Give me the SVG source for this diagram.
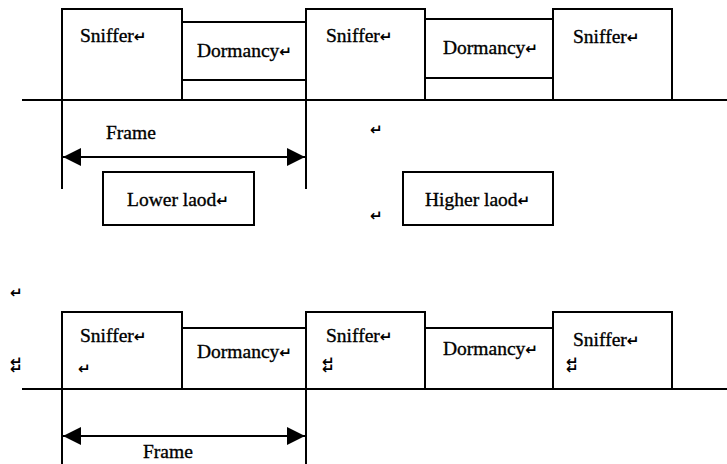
<svg xmlns="http://www.w3.org/2000/svg" width="727" height="464" viewBox="0 0 727 464">
<style>
.b{fill:#fff;stroke:#000;stroke-width:2}
.l{stroke:#000;stroke-width:2;fill:none}
.t{font-family:"Liberation Serif","Times New Roman",serif;font-size:19.5px;fill:#000;stroke:#000;stroke-width:0.35}
.r{font-family:"DejaVu Sans",sans-serif;font-size:15px;font-weight:bold;fill:#000;stroke:none}
</style>
<defs>
<marker id="ah" viewBox="0 0 18 18" refX="18" refY="9" markerWidth="18" markerHeight="18" markerUnits="userSpaceOnUse" orient="auto-start-reverse">
<path d="M0,0 L18,9 L0,18 z" fill="#000"/>
</marker>
</defs>
<rect width="727" height="464" fill="#fff"/>
<g id="connectors">
<line class="l" x1="22" y1="100" x2="727" y2="100"/>
<line class="l" x1="62" y1="100" x2="62" y2="189"/>
<line class="l" x1="306" y1="100" x2="306" y2="189"/>
<line class="l" x1="63" y1="157" x2="305" y2="157" marker-start="url(#ah)" marker-end="url(#ah)"/>
<line class="l" x1="22" y1="389" x2="727" y2="389"/>
<line class="l" x1="62" y1="389" x2="62" y2="464"/>
<line class="l" x1="306" y1="389" x2="306" y2="464"/>
<line class="l" x1="63" y1="436" x2="305" y2="436" marker-start="url(#ah)" marker-end="url(#ah)"/>
</g>
<g id="top-sniffer1"><rect class="b" x="62" y="9" width="120" height="91"/><text class="t" x="80" y="42">Sniffer<tspan class="r">↵</tspan></text></g>
<g id="top-dormancy1"><rect class="b" x="182" y="22" width="124" height="58"/><line class="l" x1="182" y1="80" x2="182" y2="100"/><text class="t" x="197" y="57">Dormancy<tspan class="r">↵</tspan></text></g>
<g id="top-sniffer2"><rect class="b" x="306" y="9" width="119" height="91"/><text class="t" x="326" y="42">Sniffer<tspan class="r">↵</tspan></text></g>
<g id="top-dormancy2"><rect class="b" x="425" y="19" width="128" height="59"/><text class="t" x="443" y="54">Dormancy<tspan class="r">↵</tspan></text></g>
<g id="top-sniffer3"><rect class="b" x="553" y="9" width="119" height="91"/><text class="t" x="573" y="43">Sniffer<tspan class="r">↵</tspan></text></g>
<g id="frame-label1"><text class="t" x="106" y="139">Frame</text></g>
<g id="mark1"><text class="r" x="370" y="135">↵</text></g>
<g id="mark2"><text class="r" x="370" y="221">↵</text></g>
<g id="lower-load"><rect class="b" x="103" y="172" width="151" height="53"/><text class="t" x="127" y="206">Lower laod<tspan class="r">↵</tspan></text></g>
<g id="higher-load"><rect class="b" x="403" y="172" width="150" height="53"/><text class="t" x="425" y="206">Higher laod<tspan class="r">↵</tspan></text></g>
<g id="mark3"><text class="r" x="10" y="298">↵</text></g>
<g id="mark4"><text class="r" x="10" y="367">↵<tspan x="10" dy="7">↵</tspan></text></g>
<g id="bot-sniffer1"><rect class="b" x="62" y="312" width="120" height="77"/><text class="t" x="80" y="342">Sniffer<tspan class="r">↵</tspan></text><text class="r" x="78" y="374">↵</text></g>
<g id="bot-dormancy1"><rect class="b" x="182" y="328" width="124" height="61"/><text class="t" x="197" y="358">Dormancy<tspan class="r">↵</tspan></text></g>
<g id="bot-sniffer2"><rect class="b" x="306" y="312" width="119" height="77"/><text class="t" x="326" y="342">Sniffer<tspan class="r">↵</tspan></text><text class="r" x="322" y="367">↵<tspan x="322" dy="7">↵</tspan></text></g>
<g id="bot-dormancy2"><rect class="b" x="425" y="328" width="128" height="61"/><text class="t" x="443" y="355">Dormancy<tspan class="r">↵</tspan></text></g>
<g id="bot-sniffer3"><rect class="b" x="553" y="312" width="119" height="77"/><text class="t" x="573" y="346">Sniffer<tspan class="r">↵</tspan></text><text class="r" x="566" y="367">↵<tspan x="566" dy="7">↵</tspan></text></g>
<g id="frame-label2"><text class="t" x="143" y="458">Frame</text></g>
</svg>
